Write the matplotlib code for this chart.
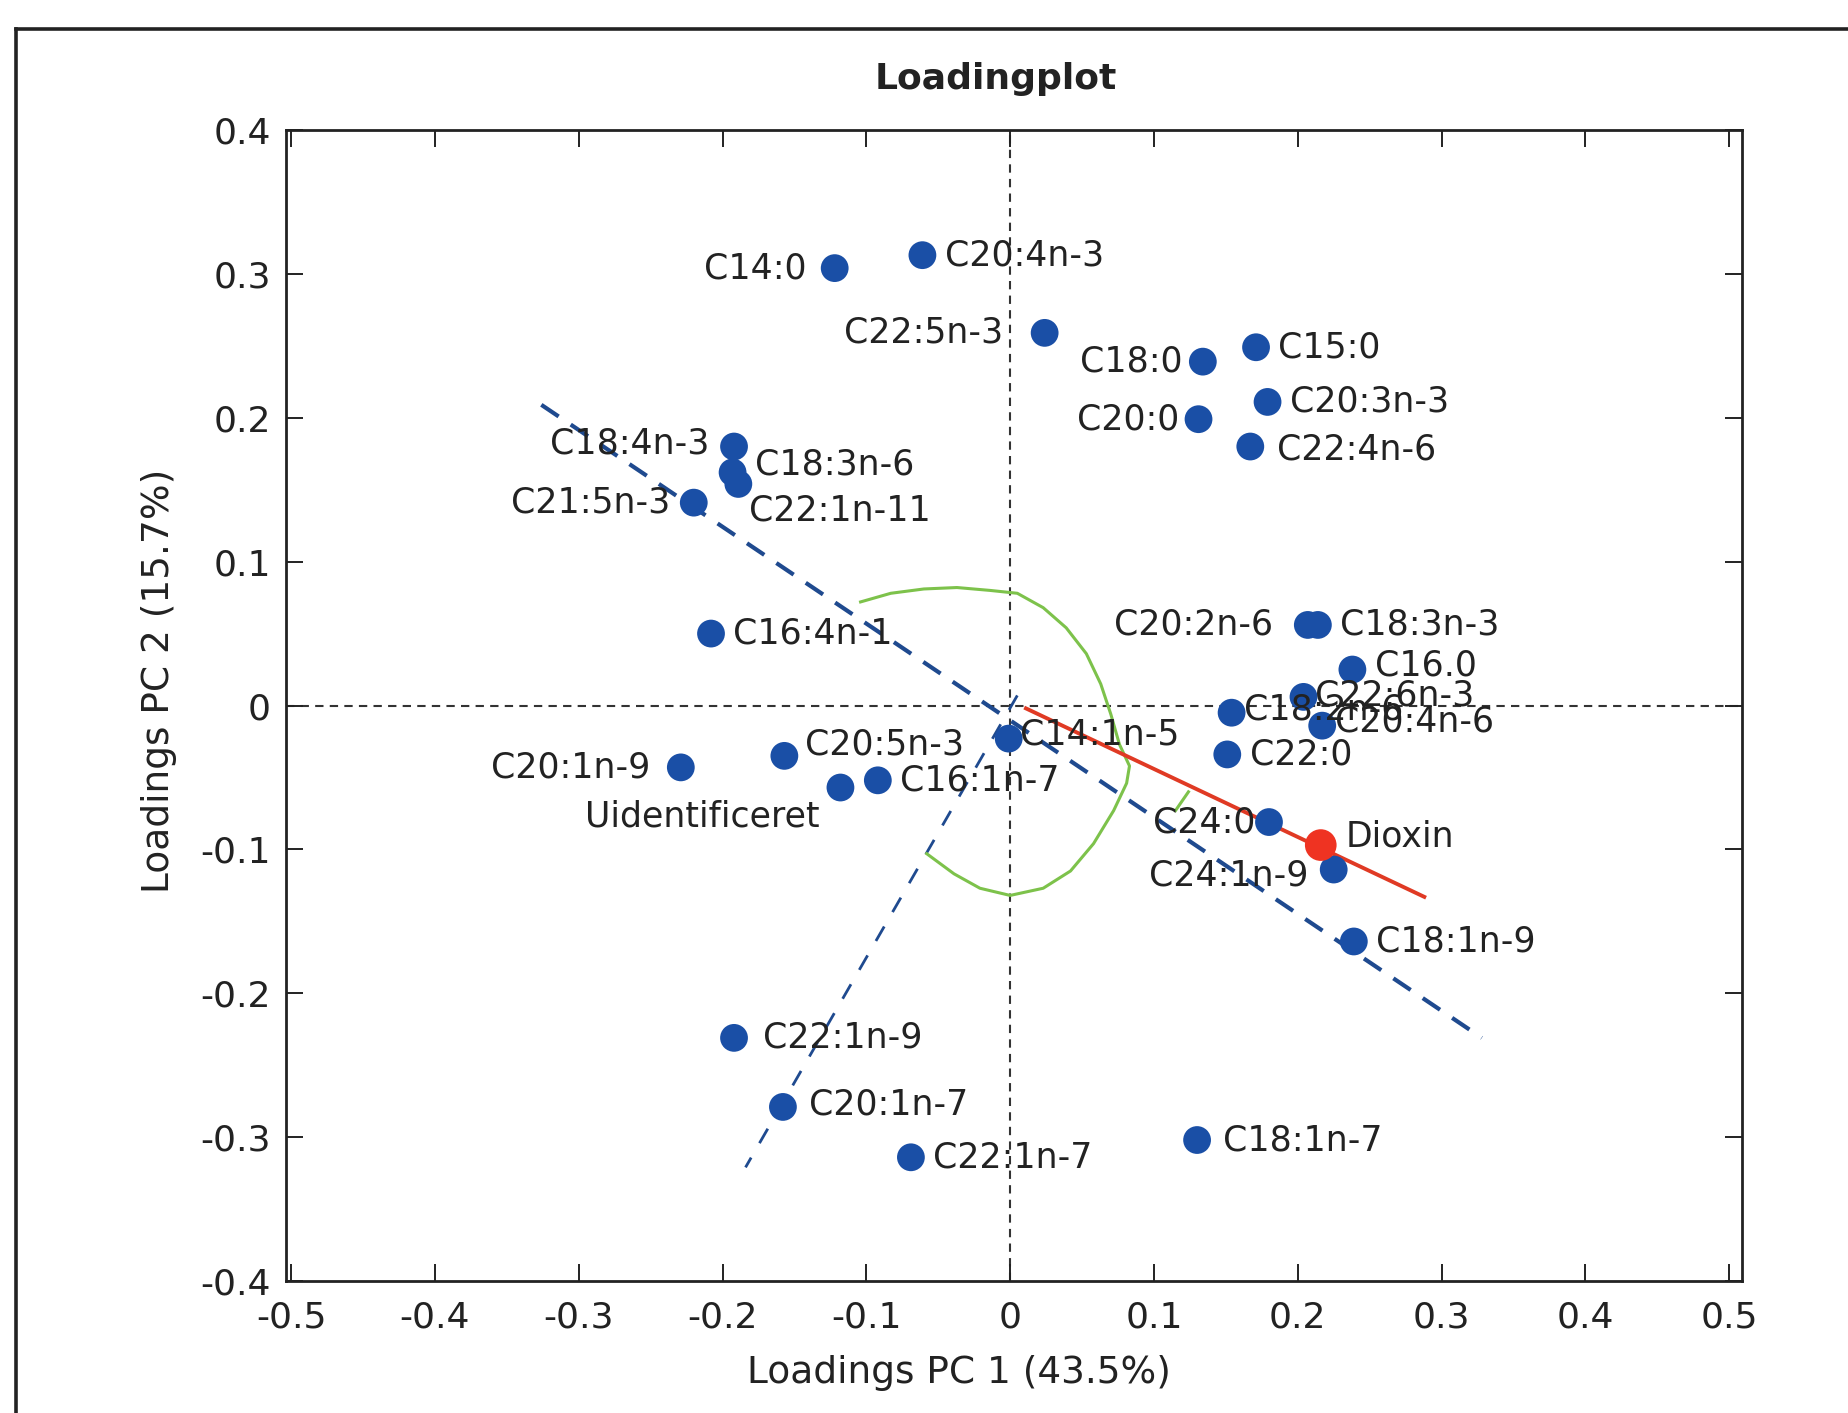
# loading plot for PC1 vs PC2 with fatty acids and dioxin
import matplotlib
matplotlib.use("Agg")
import matplotlib.pyplot as plt
from matplotlib.lines import Line2D

plt.rcParams["font.family"] = ["DejaVu Sans"]

# fatty acid loadings
names = ["C14:0", "C20:4n-3", "C22:5n-3", "C18:0", "C15:0", "C20:3n-3",
         "C20:0", "C22:4n-6", "C18:4n-3", "C18:3n-6", "C22:1n-11", "C21:5n-3",
         "C16:4n-1", "C20:2n-6", "C18:3n-3", "C16.0", "C22:6n-3", "C20:4n-6",
         "C18:2n-6", "C22:0", "C14:1n-5", "C20:5n-3", "C16:1n-7", "Uidentificeret",
         "C20:1n-9", "C24:0", "C24:1n-9", "C18:1n-9", "C22:1n-9", "C20:1n-7",
         "C22:1n-7", "C18:1n-7"]
pc1 = [-0.122, -0.061, 0.024, 0.134, 0.171, 0.179,
       0.131, 0.167, -0.192, -0.193, -0.189, -0.220,
       -0.208, 0.207, 0.214, 0.238, 0.204, 0.217,
       0.154, 0.151, -0.001, -0.157, -0.092, -0.118,
       -0.229, 0.180, 0.225, 0.239, -0.192, -0.158,
       -0.069, 0.130]
pc2 = [0.304, 0.313, 0.259, 0.239, 0.249, 0.211,
       0.199, 0.180, 0.180, 0.162, 0.154, 0.141,
       0.050, 0.056, 0.056, 0.025, 0.006, -0.014,
       -0.005, -0.034, -0.023, -0.035, -0.052, -0.057,
       -0.043, -0.081, -0.114, -0.164, -0.231, -0.279,
       -0.314, -0.302]

# dioxin loading
dioxin_pc1 = [0.216]
dioxin_pc2 = [-0.097]

# helper lines drawn on the plot
axis1_x = [-0.326, 0.328]
axis1_y = [0.209, -0.231]
axis2_x = [0.005, -0.184]
axis2_y = [0.007, -0.321]
dioxin_line_x = [0.011, 0.288]
dioxin_line_y = [-0.002, -0.133]
arc_x = [-0.104, -0.083, -0.060, -0.037, -0.014, 0.005, 0.023, 0.039, 0.053,
         0.063, 0.070, 0.076, 0.083, 0.081, 0.072, 0.058, 0.042, 0.023,
         0.000, -0.021, -0.039, -0.058]
arc_y = [0.072, 0.078, 0.081, 0.082, 0.080, 0.078, 0.068, 0.054, 0.036,
         0.015, -0.006, -0.027, -0.042, -0.054, -0.073, -0.096, -0.115, -0.127,
         -0.132, -0.127, -0.117, -0.103]
tick_mark_x = [0.124, 0.115]
tick_mark_y = [-0.060, -0.073]

# where each label goes relative to its dot (points), default is right
label_place = {
    "C14:0": (-20, 0, "right"),
    "C22:5n-3": (-30, 0, "right"),
    "C18:0": (-15, 0, "right"),
    "C20:0": (-14, 0, "right"),
    "C18:4n-3": (-18, 2, "right"),
    "C21:5n-3": (-17, 0, "right"),
    "C18:3n-6": (16, 6, "left"),
    "C22:1n-11": (8, -19, "left"),
    "C20:2n-6": (-25, 0, "right"),
    "C16.0": (16, 3, "left"),
    "C22:6n-3": (8, 1, "left"),
    "C20:4n-6": (9, 3, "left"),
    "C18:2n-6": (9, 2, "left"),
    "C14:1n-5": (8, 3, "left"),
    "C20:5n-3": (15, 8, "left"),
    "Uidentificeret": (-15, -21, "right"),
    "C20:1n-9": (-22, 0, "right"),
    "C24:0": (-10, 0, "right"),
    "C24:1n-9": (-18, -4, "right"),
    "C22:1n-9": (21, 0, "left"),
    "C20:1n-7": (19, 2, "left"),
    "C18:1n-7": (19, 0, "left"),
    "C22:4n-6": (19, -2, "left"),
}

fig = plt.figure(figsize=(18.48, 14.13), dpi=100)
ax = fig.add_axes([0.1548, 0.0934, 0.7879, 0.8146])

# dashed zero lines
ax.axhline(0, color="#333333", lw=1.5, ls=(0, (4, 3)), zorder=1)
ax.axvline(0, color="#333333", lw=1.5, ls=(0, (4, 3)), zorder=1)

# blue dashed rotated axes
ax.plot(axis1_x, axis1_y, color="#1f4a8f", lw=3.0, ls=(0, (5, 3.5)), zorder=2)
ax.plot(axis2_x, axis2_y, color="#1f4a8f", lw=2.0, ls=(0, (6, 6)), zorder=2)

# green angle arc
ax.plot(arc_x, arc_y, color="#7dc24b", lw=2.2, zorder=2)
ax.plot(tick_mark_x, tick_mark_y, color="#7dc24b", lw=2.2, zorder=2)

# red dioxin direction
ax.plot(dioxin_line_x, dioxin_line_y, color="#e03a24", lw=2.8, zorder=3)

# fatty acid dots
ax.scatter(pc1, pc2, s=400, color="#1a4fa6", edgecolors="none", zorder=4)
ax.scatter(dioxin_pc1, dioxin_pc2, s=520, color="#ef3322", edgecolors="none", zorder=5)

for name, x, y in zip(names, pc1, pc2):
    dx, dy, ha = label_place.get(name, (16, 0, "left"))
    ax.annotate(name, (x, y), xytext=(dx, dy), textcoords="offset points",
                ha=ha, va="center", fontsize=25, color="#222222", zorder=6)

ax.annotate("Dioxin", (dioxin_pc1[0], dioxin_pc2[0]), xytext=(18, 6),
            textcoords="offset points", ha="left", va="center",
            fontsize=25, color="#222222", zorder=6)

ax.set_xlim(-0.5035, 0.509)
ax.set_ylim(-0.4, 0.4)
ax.set_xticks([-0.5, -0.4, -0.3, -0.2, -0.1, 0, 0.1, 0.2, 0.3, 0.4, 0.5])
ax.set_xticklabels(["-0.5", "-0.4", "-0.3", "-0.2", "-0.1", "0",
                    "0.1", "0.2", "0.3", "0.4", "0.5"])
ax.set_yticks([-0.4, -0.3, -0.2, -0.1, 0, 0.1, 0.2, 0.3, 0.4])
ax.set_yticklabels(["-0.4", "-0.3", "-0.2", "-0.1", "0",
                    "0.1", "0.2", "0.3", "0.4"])
ax.tick_params(direction="in", length=12, width=1.4, labelsize=26,
               top=True, right=True, colors="#222222")
ax.tick_params(axis="x", pad=14)
ax.tick_params(axis="y", pad=11)
for spine in ax.spines.values():
    spine.set_linewidth(2.0)
    spine.set_color("#222222")

fig.text(0.539, 0.944, "Loadingplot", fontsize=26, fontweight="bold",
         ha="center", va="center", color="#222222")
ax.set_xlabel("Loadings PC 1 (43.5%)", fontsize=27, color="#222222")
ax.set_ylabel("Loadings PC 2 (15.7%)", fontsize=27, color="#222222")
ax.xaxis.set_label_coords(0.462, -0.080)
ax.xaxis.label.set_va("center")
ax.yaxis.set_label_coords(-0.087, 0.521)
ax.yaxis.label.set_va("center")

# outer frame of the figure panel (left and top edges only visible)
fig.add_artist(Line2D([0.0087, 0.0087], [0.0, 0.9795], transform=fig.transFigure,
                      color="#222222", lw=2.6))
fig.add_artist(Line2D([0.0087, 1.0], [0.9795, 0.9795], transform=fig.transFigure,
                      color="#222222", lw=2.6))

fig.savefig("out.png", dpi=100, facecolor="white")
